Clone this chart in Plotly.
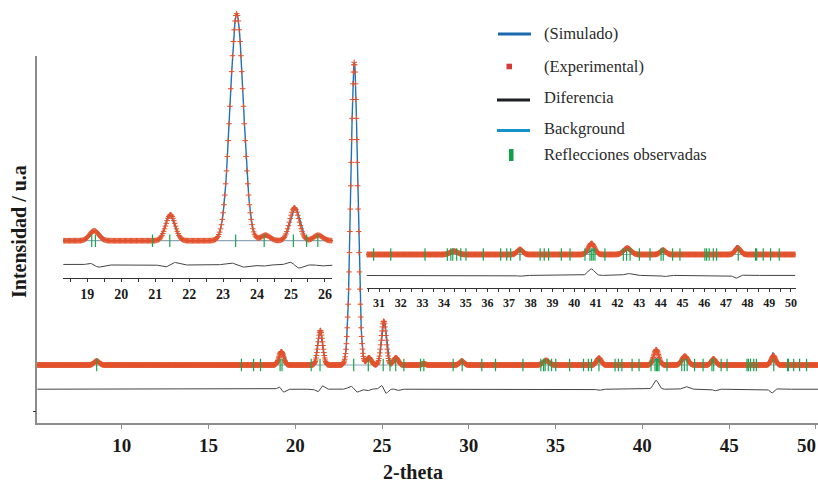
import numpy as np
import plotly.graph_objects as go

# ---------------- data ----------------
# peak list (2-theta, degrees) : observed and refined (simulated) profiles
peak_pos_obs  = [8.56, 19.20, 21.45, 23.40, 24.25, 25.10, 25.80, 27.40, 29.60, 34.45, 37.50, 40.80, 42.45, 44.10, 47.55]
peak_pos_calc = [8.56, 19.24, 21.43, 23.403, 24.23, 25.12, 25.82, 27.40, 29.60, 34.45, 37.50, 40.82, 42.43, 44.12, 47.52]
peak_h_obs    = [13, 44, 114, 1000, 24, 145, 24, 4, 13, 15, 23, 50, 29, 20, 30]
peak_h_calc   = [13, 46, 112, 1000, 28, 146, 27, 4, 12, 14, 27, 21, 21, 24, 40]
peak_fwhm     = [0.35, 0.32, 0.33, 0.46, 0.32, 0.33, 0.32, 0.25, 0.30, 0.40, 0.30, 0.35, 0.40, 0.30, 0.30]
background_level = 0

# observed reflection positions (green ticks)
reflections = [8.56, 16.9, 17.6, 18.0, 19.13, 19.24, 20.92, 21.43, 23.37, 24.21, 25.07, 25.46, 25.79,
               26.26, 27.22, 27.41, 29.10, 29.62, 30.75, 31.54, 33.12, 34.15, 34.31, 34.40, 34.58,
               34.77, 35.01, 35.81, 36.61, 36.89, 37.07, 37.50, 38.43, 38.62, 38.82, 39.41, 39.81,
               40.50, 40.73, 40.81, 40.88, 40.96, 41.42, 42.27, 42.42, 42.58, 43.01, 43.50, 44.01,
               44.11, 44.54, 44.88, 46.03, 46.11, 46.23, 46.42, 46.57, 47.57, 48.37, 48.42, 48.72,
               49.06, 49.46]

main_xticks   = [10, 15, 20, 25, 30, 35, 40, 45, 50]
inset1_xticks = [19, 20, 21, 22, 23, 24, 25, 26]
inset2_xticks = list(range(31, 51))
main_yticks   = [-152]

legend_labels = ["(Simulado)", "(Experimental)", "Diferencia", "Background", "Reflecciones observadas"]

# ---------------- profile construction ----------------
two_theta = np.round(np.arange(5.0, 50.2001, 0.025), 4)


def profile(pos, h, fwhm):
    y = np.full_like(two_theta, float(background_level))
    for p, a, w in zip(pos, h, fwhm):
        y += a * np.exp(-4 * np.log(2) * (two_theta - p) ** 2 / w ** 2)
    return y


obs = profile(peak_pos_obs, peak_h_obs, peak_fwhm)
calc = profile(peak_pos_calc, peak_h_calc, peak_fwhm)
difference = obs - calc
bg = np.full_like(two_theta, float(background_level))

# ---------------- styling ----------------
W, H = 818, 482
def fx(px): return px / W
def fy(py): return 1 - py / H

C_OBS = "#e2522c"
C_CALC = "#2270b5"
C_DIFF = "#444444"
C_REF = "#19a550"
SERIF = "Liberation Serif"

fig = go.Figure()

panels = [
    # (xaxis, yaxis, diff offset)
    ("x", "y", -80),
    ("x2", "y2", -107),
    ("x3", "y3", -95),
]
for xa, ya, off in panels:
    fig.add_trace(go.Scatter(x=two_theta, y=bg, mode="lines", xaxis=xa, yaxis=ya,
                             line=dict(color="#8fa6b8", width=1.2), hoverinfo="skip", showlegend=False))
    fig.add_trace(go.Scatter(x=two_theta, y=calc, mode="lines", xaxis=xa, yaxis=ya,
                             line=dict(color=C_CALC, width=1.4), showlegend=False))
    fig.add_trace(go.Scatter(x=two_theta, y=obs, mode="markers", xaxis=xa, yaxis=ya,
                             marker=dict(symbol="cross-thin", size=4, color=C_OBS,
                                         line=dict(width=1.0, color=C_OBS)),
                             showlegend=False))
    fig.add_trace(go.Scatter(x=two_theta, y=difference + off, mode="lines", xaxis=xa, yaxis=ya,
                             line=dict(color=C_DIFF, width=1), showlegend=False))
    fig.add_trace(go.Scatter(x=reflections, y=[background_level] * len(reflections), mode="markers",
                             xaxis=xa, yaxis=ya,
                             marker=dict(symbol="line-ns", size=9, color=C_REF,
                                         line=dict(width=1.2, color=C_REF)),
                             showlegend=False))

main_font = dict(family=SERIF, size=19, color="#1a1a1a", weight="bold")

# main axes: px 37.3..818 (x), 56..423.3 (y); baseline at 365, 0.3027 px per count
fig.update_layout(
    width=W, height=H, margin=dict(l=0, r=0, t=0, b=0),
    paper_bgcolor="white", plot_bgcolor="rgba(0,0,0,0)", showlegend=False,
    xaxis=dict(domain=[fx(37.3), 1.0], range=[5.14, 50.12], showline=True, linecolor="#8c8c8c",
               linewidth=1.5, ticks="outside", ticklen=4, tickcolor="#8c8c8c", tickwidth=1.2,
               tickvals=main_xticks, tickfont=main_font, showgrid=False, zeroline=False,
               anchor="y"),
    yaxis=dict(domain=[fy(423.3), fy(56)], range=[-192.6, 1020.8], showline=True, linecolor="#8c8c8c",
               linewidth=1.5, ticks="outside", ticklen=3, tickcolor="#333", tickvals=main_yticks,
               showticklabels=False, showgrid=False, zeroline=False, anchor="x"),
    # inset 1: px 63.3..332.3, axis line at 277.7, baseline 240.7, 0.227 px per count
    xaxis2=dict(domain=[fx(63.3), fx(332.3)], range=[18.293, 26.216], showline=True, linecolor="#333",
                linewidth=1, ticks="outside", ticklen=3, tickcolor="#333", tickvals=inset1_xticks,
                minor=dict(dtick=0.5, ticks="outside", ticklen=3, tickcolor="#333"),
                tickfont=dict(family=SERIF, size=14, color="#1a1a1a", weight="bold"),
                showgrid=False, zeroline=False, anchor="y2"),
    yaxis2=dict(domain=[fy(277.7), fy(8)], range=[-163, 1025], visible=False, anchor="x2"),
    # inset 2: px 366.7..795.7, axis line at 288.3, baseline 254.5
    xaxis3=dict(domain=[fx(366.7), fx(795.7)], range=[30.43, 50.22], showline=True, linecolor="#333",
                linewidth=1, ticks="outside", ticklen=3, tickcolor="#333", tickvals=inset2_xticks,
                minor=dict(dtick=0.5, ticks="outside", ticklen=3, tickcolor="#333"),
                tickfont=dict(family=SERIF, size=12, color="#1a1a1a", weight="bold"),
                showgrid=False, zeroline=False, anchor="y3"),
    yaxis3=dict(domain=[fy(288.3), fy(220)], range=[-153.6, 156.8], visible=False, anchor="x3"),
)

# last main tick label sits on the right edge of the page (hidden by plotly) -> annotation
fig.add_annotation(x=1.0, y=fy(445.5), xref="paper", yref="paper", text=str(main_xticks[-1]),
                   showarrow=False, xanchor="right", yanchor="middle", font=main_font)

# axis titles as annotations
fig.add_annotation(x=fx(413), y=fy(472), xref="paper", yref="paper", text="2-theta", showarrow=False,
                   xanchor="center", yanchor="middle",
                   font=dict(family=SERIF, size=20, color="#1a1a1a", weight="bold"))
fig.add_annotation(x=fx(19), y=fy(232), xref="paper", yref="paper", text="Intensidad / u.a",
                   showarrow=False, textangle=-90, xanchor="center", yanchor="middle",
                   font=dict(family=SERIF, size=20, color="#1a1a1a", weight="bold"))

# custom legend
leg_y = [34, 66.5, 100, 130.5, 155]
leg_text_y = [33.5, 66.5, 98, 129, 155]
P = dict(xref="paper", yref="paper")
shapes = [
    dict(type="line", x0=fx(498), x1=fx(531), y0=fy(leg_y[0]), y1=fy(leg_y[0]),
         line=dict(color="#1a68ad", width=3), **P),
    dict(type="rect", x0=fx(506.5), x1=fx(512), y0=fy(leg_y[1] - 2.8), y1=fy(leg_y[1] + 2.8),
         fillcolor="#d43a36", line=dict(width=0), **P),
    dict(type="line", x0=fx(497), x1=fx(530), y0=fy(leg_y[2]), y1=fy(leg_y[2]),
         line=dict(color="#1d1f22", width=3), **P),
    dict(type="line", x0=fx(497), x1=fx(530), y0=fy(leg_y[3]), y1=fy(leg_y[3]),
         line=dict(color="#1591d0", width=3), **P),
    dict(type="rect", x0=fx(509), x1=fx(513.5), y0=fy(161), y1=fy(149),
         fillcolor="#10a048", line=dict(width=0), **P),
]
fig.update_layout(shapes=shapes)
for lab, ty in zip(legend_labels, leg_text_y):
    fig.add_annotation(x=fx(542), y=fy(ty), xref="paper", yref="paper", text=lab, showarrow=False,
                       xanchor="left", yanchor="middle",
                       font=dict(family=SERIF, size=16.5, color="#2b2b2b"))

fig.write_html(
    "out.html", config={"displayModeBar": False},
    post_script=("document.body.style.margin='0';"
                 "document.body.style.overflow='hidden';"))
